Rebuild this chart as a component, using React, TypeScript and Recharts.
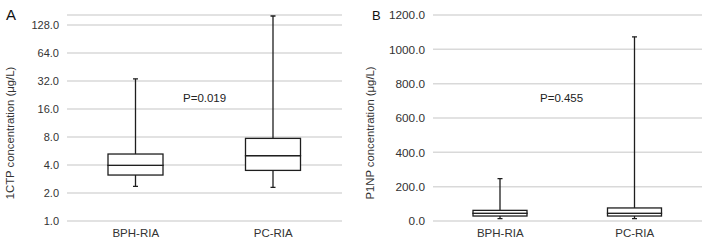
import React from 'react';
import { ComposedChart, Bar, XAxis, YAxis, CartesianGrid } from 'recharts';

const categories = ['BPH-RIA', 'PC-RIA'];

// 1CTP (log scale), box stats
const ctpMin = [2.36, 2.3];
const ctpQ1 = [3.12, 3.5];
const ctpMedian = [3.97, 5.04];
const ctpQ3 = [5.25, 7.73];
const ctpMax = [33.8, 160];
const ctpTicks = [1, 2, 4, 8, 16, 32, 64, 128];

// P1NP (linear scale)
const pnpMin = [14, 14];
const pnpQ1 = [29, 29];
const pnpMedian = [45, 45];
const pnpQ3 = [62, 76];
const pnpMax = [247, 1073];
const pnpTicks = [0, 200, 400, 600, 800, 1000, 1200];

const pValues = ['P=0.019', 'P=0.455'];

const FONT = '"Liberation Sans", Arial, sans-serif';
const INK = '#1e1e1e';

function buildRows(min: number[], q1: number[], med: number[], q3: number[], max: number[]) {
  return categories.map((name, i) => ({
    name,
    whisker: [min[i], max[i]],
    lower: [q1[i], med[i]],
    upper: [med[i], q3[i]],
  }));
}

const ctpRows = buildRows(ctpMin, ctpQ1, ctpMedian, ctpQ3, ctpMax);
const pnpRows = buildRows(pnpMin, pnpQ1, pnpMedian, pnpQ3, pnpMax);

const Whisker = (props: any) => {
  const { x, y, width, height } = props;
  const cx = x + width / 2;
  return (
    <g stroke={INK} strokeWidth={1.3}>
      <line x1={cx} x2={cx} y1={y} y2={y + height} />
      <line x1={cx - 2.5} x2={cx + 2.5} y1={y} y2={y} />
      <line x1={cx - 2.5} x2={cx + 2.5} y1={y + height} y2={y + height} />
    </g>
  );
};

const BoxHalf = (props: any) => {
  const { x, y, width, height } = props;
  return <rect x={x} y={y} width={width} height={height} fill="#fff" stroke={INK} strokeWidth={1.3} />;
};

const yTitle = (text: string, cx: number) => () => (
  <text
    transform={`translate(${cx},133) rotate(-90)`}
    textAnchor="middle"
    fontSize={11.3}
    fill="#333"
    fontFamily={FONT}
  >
    {text}
  </text>
);

type PanelProps = {
  rows: any[];
  ticks: number[];
  log?: boolean;
  domain: [number, number];
  axisWidth: number;
  rightMargin: number;
  barSize: number;
  tickSize: number;
  title: string;
  titleX: number;
};

function BoxPanel(p: PanelProps) {
  return (
    <ComposedChart
      width={354}
      height={249}
      data={p.rows}
      margin={{ top: 15, right: p.rightMargin, bottom: 0, left: 0 }}
      barGap={-p.barSize}
      barSize={p.barSize}
    >
      <CartesianGrid vertical={false} stroke="#d9d9d9" strokeWidth={1.5} />
      <XAxis
        dataKey="name"
        height={28}
        tickLine={false}
        axisLine={false}
        tick={{ fill: '#333', fontSize: 11.5, fontFamily: FONT }}
      />
      <YAxis
        type="number"
        scale={p.log ? 'log' : 'linear'}
        domain={p.domain}
        ticks={p.ticks}
        interval={0}
        allowDataOverflow
        width={p.axisWidth}
        tickLine={false}
        axisLine={false}
        tickFormatter={(v: number) => v.toFixed(1)}
        tick={{ fill: '#333', fontSize: p.tickSize, fontFamily: FONT }}
        label={yTitle(p.title, p.titleX)}
      />
      <Bar dataKey="whisker" shape={<Whisker />} isAnimationActive={false} />
      <Bar dataKey="lower" shape={<BoxHalf />} isAnimationActive={false} />
      <Bar dataKey="upper" shape={<BoxHalf />} isAnimationActive={false} />
    </ComposedChart>
  );
}

export default function App() {
  return (
    <div style={{ position: 'absolute', left: 0, top: 0, width: 708, height: 249, background: '#fff' }}>
      <div style={{ position: 'absolute', left: 0, top: 0 }}>
        <BoxPanel
          rows={ctpRows}
          ticks={ctpTicks}
          log
          domain={[1, 164]}
          axisWidth={67}
          rightMargin={12}
          barSize={55}
          tickSize={11}
          title="1CTP concentration (μg/L)"
          titleX={14}
        />
      </div>
      <div style={{ position: 'absolute', left: 354, top: 0 }}>
        <BoxPanel
          rows={pnpRows}
          ticks={pnpTicks}
          domain={[0, 1200]}
          axisWidth={79}
          rightMargin={6}
          barSize={54}
          tickSize={11.8}
          title="P1NP concentration (μg/L)"
          titleX={20}
        />
      </div>
      <svg
        width={708}
        height={249}
        style={{ position: 'absolute', left: 0, top: 0, pointerEvents: 'none' }}
        fontFamily={FONT}
      >
        <text x={6} y={19.5} fontSize={15} fill="#111">A</text>
        <text x={372} y={19.5} fontSize={13} fill="#111">B</text>
        <text x={183} y={101.5} fontSize={11.5} fill="#222">{pValues[0]}</text>
        <text x={540} y={101.5} fontSize={11.5} fill="#222">{pValues[1]}</text>
      </svg>
    </div>
  );
}
